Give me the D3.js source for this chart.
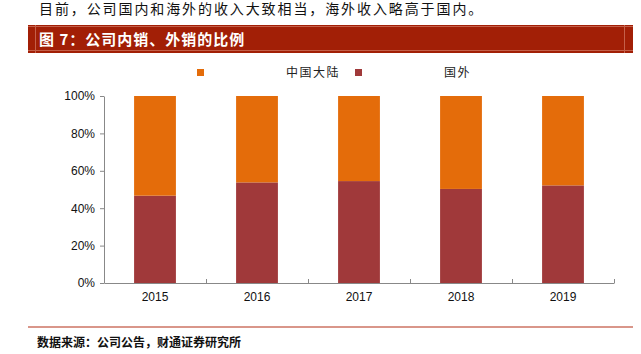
<!DOCTYPE html>
<html><head><meta charset="utf-8">
<script src="https://cdn.jsdelivr.net/npm/d3@7"></script>
<style>body{margin:0;background:#fff}svg{display:block}</style>
</head><body>
<script>
const years = ["2015","2016","2017","2018","2019"];
const overseas = [46.7, 53.8, 54.5, 50.3, 52.2];   // 国外
const mainland = [53.3, 46.2, 45.5, 49.7, 47.8];   // 中国大陆
const yTicks = [0,20,40,60,80,100];
const seriesNames = ["中国大陆","国外"];
const colors = {"中国大陆":"#E46C0A","国外":"#A0393A"};

const W=641,H=354;
const svg=d3.select("body").append("svg").attr("width",W).attr("height",H);
const cjk = "'Noto Sans CJK SC','Noto Serif CJK SC',serif";

// top text
svg.append("text").attr("x",39).attr("y",14).attr("font-family",cjk)
  .attr("font-size",14).attr("fill","#111").attr("letter-spacing",1.9)
  .text("目前，公司国内和海外的收入大致相当，海外收入略高于国内。");

// header
svg.append("rect").attr("x",28).attr("y",25).attr("width",605).attr("height",28).attr("fill","#A21F06");
svg.append("line").attr("x1",28).attr("x2",633).attr("y1",26.5).attr("y2",26.5).attr("stroke","#C4604A").attr("stroke-width",1);
svg.append("line").attr("x1",28).attr("x2",633).attr("y1",50.5).attr("y2",50.5).attr("stroke","#C4604A").attr("stroke-width",1);
svg.append("line").attr("x1",35.5).attr("x2",35.5).attr("y1",25).attr("y2",53).attr("stroke","#C4604A").attr("stroke-width",1);
svg.append("line").attr("x1",624.5).attr("x2",624.5).attr("y1",25).attr("y2",53).attr("stroke","#C4604A").attr("stroke-width",1);
svg.append("text").attr("x",39).attr("y",45).attr("font-family",cjk).attr("font-weight","bold")
  .attr("font-size",15).attr("fill","#fff").attr("letter-spacing",1).text("图 7：公司内销、外销的比例");

// scales
const x=d3.scaleBand().domain(years).range([104,614]).paddingInner(0.59).paddingOuter(0.295);
const y=d3.scaleLinear().domain([0,100]).range([283,96]);

const g=svg.append("g");
// bars
years.forEach((yr,i)=>{
  g.append("rect").attr("x",x(yr)).attr("width",x.bandwidth())
    .attr("y",y(overseas[i])).attr("height",y(0)-y(overseas[i])).attr("fill",colors["国外"]);
  g.append("rect").attr("x",x(yr)).attr("width",x.bandwidth())
    .attr("y",y(overseas[i]+mainland[i])).attr("height",y(overseas[i])-y(overseas[i]+mainland[i])).attr("fill",colors["中国大陆"]);
});

// y axis
const ya=svg.append("g").attr("transform","translate(104,0)")
  .call(d3.axisLeft(y).tickValues(yTicks).tickFormat(d=>d+"%").tickSize(4).tickSizeOuter(0));
ya.select(".domain").attr("stroke","#888");
ya.selectAll(".tick line").attr("stroke","#888");
ya.selectAll("text").attr("font-family","'Liberation Sans',Arial,sans-serif").attr("font-size",12).attr("fill","#111").attr("x",-9);

// x axis
const xa=svg.append("g").attr("transform","translate(0,283)")
  .call(d3.axisBottom(x).tickSize(0).tickPadding(9));
xa.select(".domain").attr("stroke","#888");
xa.selectAll("text").attr("font-family","'Liberation Sans',Arial,sans-serif").attr("font-size",12).attr("fill","#111");
// boundary ticks
const step=x.step();
years.forEach((yr,i)=>{
  const bx=x(yr)-x.paddingOuter()*step+step;
  svg.append("line").attr("x1",Math.round(bx)+0.5).attr("x2",Math.round(bx)+0.5).attr("y1",283).attr("y2",279).attr("stroke","#888");
});

// legend
const leg=[{n:"中国大陆",sx:197,tx:286},{n:"国外",sx:355,tx:444}];
leg.forEach(l=>{
  svg.append("rect").attr("x",l.sx).attr("y",69).attr("width",7).attr("height",7).attr("fill",colors[l.n]);
  svg.append("text").attr("x",l.tx).attr("y",77).attr("font-family",cjk).attr("font-size",12)
    .attr("fill","#222").attr("letter-spacing",1.5).text(l.n);
});

// footer
svg.append("line").attr("x1",28).attr("x2",633).attr("y1",327).attr("y2",327).attr("stroke","#D9968A").attr("stroke-width",2);
svg.append("text").attr("x",37).attr("y",347).attr("font-family",cjk).attr("font-weight","bold")
  .attr("font-size",12).attr("fill","#111").text("数据来源：公司公告，财通证券研究所");
</script>
</body></html>
